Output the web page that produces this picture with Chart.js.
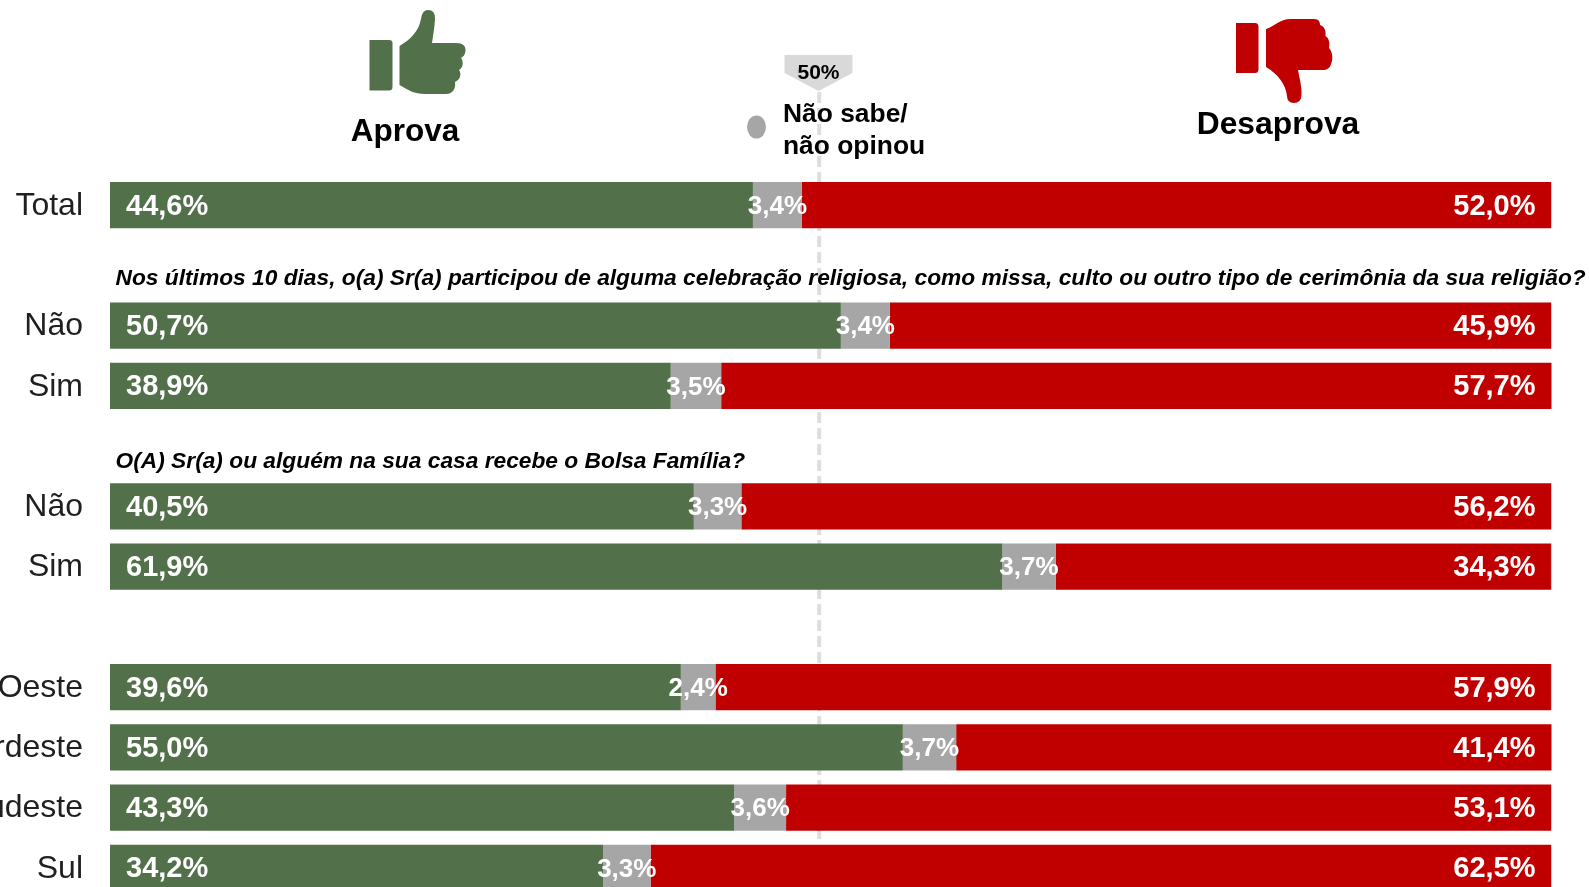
<!DOCTYPE html>
<html>
<head>
<meta charset="utf-8">
<title>Aprova / Desaprova</title>
<script src="https://cdn.jsdelivr.net/npm/chart.js@4"></script>
<style>
  html, body { margin: 0; padding: 0; background: #fff; overflow: hidden; }
  #wrap { width: 1589px; height: 887px; overflow: hidden; }
</style>
</head>
<body>
<div id="wrap"><canvas id="approvalChart" width="1589" height="920"></canvas></div>
<script>
// blank categories are the gaps between the groups
const categories = ['Total', '', 'Não', 'Sim', '', 'Não', 'Sim', '', 'Centro-Oeste', 'Nordeste', 'Sudeste', 'Sul'];
const aprova =    [44.6, null, 50.7, 38.9, null, 40.5, 61.9, null, 39.6, 55.0, 43.3, 34.2];
const naoSabe =   [3.4, null, 3.4, 3.5, null, 3.3, 3.7, null, 2.4, 3.7, 3.6, 3.3];
const desaprova = [52.0, null, 45.9, 57.7, null, 56.2, 34.3, null, 57.9, 41.4, 53.1, 62.5];

const questionReligiao = 'Nos últimos 10 dias, o(a) Sr(a) participou de alguma celebração religiosa, como missa, culto ou outro tipo de cerimônia da sua religião?';
const questionBolsa = 'O(A) Sr(a) ou alguém na sua casa recebe o Bolsa Família?';

// the dashed 50% guide does not sit at 50 on the stacked scale in the original
const guidePosition = 49.2;

// rows whose rounded shares add to 99,9 still reach the right edge in the original
const roundingRest = aprova.map((v, i) => v == null ? null : Math.max(0, 100 - v - naoSabe[i] - desaprova[i]));

const GREEN = '#527049';
const RED = '#C00000';
const GREY = '#A6A6A6';
const FONT = '"Liberation Sans", Arial, sans-serif';

const fmt = v => v.toFixed(1).replace('.', ',') + '%';

const thumbUp = new Path2D('M399.5 46 C410 40 419 31 421 19 Q422 10 428 10 Q435.5 10 435 19 C434.5 28 433 36 432 43 L456 43 C463 43 466 46 465.5 51 C465 55 463 57 461 58 C464 62 463 68 459 70 C462 74 460 80 455 82 C456 88 453 94 446 94 L425 94 C414 94 408 90 399.5 85 Z');
const thumbUpCuff = new Path2D('M369.5 40 L389 40 Q392.5 40 392.5 43 L392.5 87 Q392.5 90.5 389 90.5 L369.5 90.5 Z');
const thumbDown = new Path2D('M1266 29 C1274 27 1279 19 1291 19 L1314 19 C1319 19 1320 22 1320 25 C1325 27 1326 31 1325.5 36 C1329 38 1330 43 1329 48 C1333 52 1333 60 1331 64 C1330 68 1327 70 1322 70 L1298 70 C1300 80 1302 88 1301.5 95 Q1301 103 1294 103 Q1287 103 1287 96 C1286 85 1278 74 1266 67 Z');
const thumbDownCuff = new Path2D('M1236 23 L1255 23 Q1258.5 23 1258.5 27 L1258.5 69 Q1258.5 73 1255 73 L1236 73 Z');

const text = (ctx, str, x, y, font, color, align) => {
  ctx.font = font;
  ctx.fillStyle = color;
  ctx.textAlign = align || 'left';
  ctx.textBaseline = 'middle';
  ctx.fillText(str, x, y);
};

// dashed guide, drawn before the bars so that they cover it
const guidePlugin = {
  id: 'guide',
  beforeDatasetsDraw(chart) {
    const ctx = chart.ctx;
    const x = chart.scales.x.getPixelForValue(guidePosition);
    ctx.save();
    ctx.strokeStyle = '#DDDDDD';
    ctx.lineWidth = 4;
    ctx.setLineDash([11, 5]);
    ctx.beginPath();
    ctx.moveTo(x, 92);
    ctx.lineTo(x, 840);
    ctx.stroke();
    ctx.restore();
  }
};

const labelPlugin = {
  id: 'barLabels',
  afterDatasetsDraw(chart) {
    const ctx = chart.ctx;
    const right = chart.chartArea.right;
    ctx.save();
    chart.data.datasets.slice(0, 3).forEach((ds, i) => {
      chart.getDatasetMeta(i).data.forEach((bar, j) => {
        if (ds.data[j] == null) return;
        const t = fmt(ds.data[j]);
        if (i === 0) text(ctx, t, bar.base + 16, bar.y + 1.5, 'bold 29px ' + FONT, '#fff', 'left');
        if (i === 1) text(ctx, t, (bar.base + bar.x) / 2, bar.y + 1.5, 'bold 26px ' + FONT, '#fff', 'center');
        if (i === 2) text(ctx, t, right - 16, bar.y + 1.5, 'bold 29px ' + FONT, '#fff', 'right');
      });
    });
    ctx.restore();
  }
};

const headerPlugin = {
  id: 'header',
  afterDraw(chart) {
    const ctx = chart.ctx;
    const x = chart.scales.x.getPixelForValue(guidePosition) - 0.7;
    ctx.save();
    ctx.fillStyle = GREEN;
    ctx.fill(thumbUp);
    ctx.fill(thumbUpCuff);
    ctx.fillStyle = RED;
    ctx.fill(thumbDown);
    ctx.fill(thumbDownCuff);

    // 50% tag
    ctx.fillStyle = '#D9D9D9';
    ctx.beginPath();
    ctx.moveTo(x - 34, 55);
    ctx.lineTo(x + 34, 55);
    ctx.lineTo(x + 34, 73);
    ctx.lineTo(x, 91);
    ctx.lineTo(x - 34, 73);
    ctx.closePath();
    ctx.fill();
    text(ctx, '50%', x, 73, 'bold 21px ' + FONT, '#000', 'center');

    text(ctx, 'Aprova', 405, 132, 'bold 31.5px ' + FONT, '#000', 'center');
    text(ctx, 'Desaprova', 1278, 125, 'bold 31.8px ' + FONT, '#000', 'center');

    ctx.fillStyle = GREY;
    ctx.beginPath();
    ctx.ellipse(756.5, 127, 9.5, 11.5, 0, 0, Math.PI * 2);
    ctx.fill();
    text(ctx, 'Não sabe/', 783, 115, 'bold 26.4px ' + FONT, '#000');
    text(ctx, 'não opinou', 783, 147, 'bold 26.4px ' + FONT, '#000');

    text(ctx, questionReligiao, 115.5, 279, 'italic bold 22.75px ' + FONT, '#000');
    text(ctx, questionBolsa, 115.5, 462, 'italic bold 22.75px ' + FONT, '#000');
    ctx.restore();
  }
};

const approvalCtx = document.getElementById('approvalChart').getContext('2d');
const approvalChart = new Chart(approvalCtx, {
  type: 'bar',
  data: {
    labels: categories,
    datasets: [
      { label: 'Aprova', data: aprova, backgroundColor: GREEN },
      { label: 'Não sabe/não opinou', data: naoSabe, backgroundColor: GREY },
      { label: 'Desaprova', data: desaprova, backgroundColor: RED },
      { label: 'Arredondamento', data: roundingRest, backgroundColor: RED }
    ]
  },
  options: {
    indexAxis: 'y',
    responsive: false,
    animation: false,
    layout: { padding: { top: 175, right: 37.5, bottom: 22, left: 0 } },
    datasets: { bar: { barPercentage: 0.77, categoryPercentage: 1 } },
    plugins: { legend: { display: false }, tooltip: { enabled: false } },
    scales: {
      x: { stacked: true, min: 0, max: 100, display: false },
      y: {
        stacked: true,
        afterFit(scale) {
          scale.width = 110;
          scale.paddingTop = 0;
          scale.paddingBottom = 0;
        },
        grid: { display: false, drawTicks: false },
        border: { display: false },
        ticks: {
          autoSkip: false,
          padding: 27,
          labelOffset: 1,
          color: '#1F1F1F',
          font: { family: FONT, size: 32 }
        }
      }
    }
  },
  plugins: [guidePlugin, labelPlugin, headerPlugin]
});
</script>
</body>
</html>
